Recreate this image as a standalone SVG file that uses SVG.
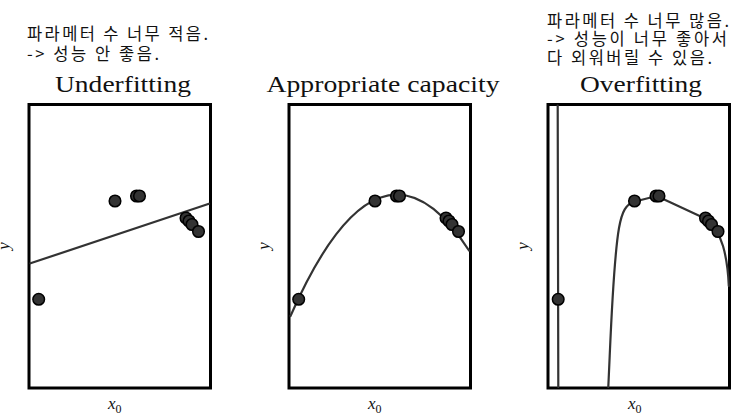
<svg xmlns="http://www.w3.org/2000/svg" width="745" height="416" viewBox="0 0 745 416">
<style>
.note{font-family:"Noto Sans CJK KR","Noto Sans",sans-serif;font-size:16.5px;fill:#111}
.title{font-family:"Liberation Serif","DejaVu Serif",serif;font-size:24px;fill:#111}
.ax{font-family:"Liberation Serif","DejaVu Serif",serif;font-style:italic;font-size:17px;fill:#111}
.sub{font-style:normal;font-size:12px}
.box{fill:#fff;stroke:#000;stroke-width:3}
.fit{fill:none;stroke:#333;stroke-width:2.2;stroke-linecap:round;stroke-linejoin:round}
.pt{fill:#333;stroke:#000;stroke-width:1.5}
</style>
<rect width="745" height="416" fill="#fff"/>

<g id="panel-underfitting">
<text class="note" x="27" y="39.5" textLength="181" lengthAdjust="spacing">파라메터 수 너무 적음.</text>
<text class="note" x="27" y="59.5" textLength="132" lengthAdjust="spacing">-&gt; 성능 안 좋음.</text>
<text class="title" x="55" y="91.5" textLength="136" lengthAdjust="spacingAndGlyphs">Underfitting</text>
<rect class="box" x="29" y="104.5" width="181.5" height="283.5"/>
<text class="ax" transform="translate(9,246) rotate(-90)" text-anchor="middle">y</text>
<text class="ax" x="108" y="409">x<tspan class="sub" dy="4">0</tspan></text>
</g>

<g id="panel-appropriate">
<text class="title" x="266.5" y="91.5" textLength="233" lengthAdjust="spacingAndGlyphs">Appropriate capacity</text>
<rect class="box" x="289" y="104.5" width="181.5" height="283.5"/>
<text class="ax" transform="translate(269,246) rotate(-90)" text-anchor="middle">y</text>
<text class="ax" x="368" y="409">x<tspan class="sub" dy="4">0</tspan></text>
</g>

<g id="panel-overfitting">
<text class="note" x="547" y="26.5" textLength="182" lengthAdjust="spacing">파라메터 수 너무 많음.</text>
<text class="note" x="547" y="45" textLength="180" lengthAdjust="spacing">-&gt; 성능이 너무 좋아서</text>
<text class="note" x="547" y="63.5" textLength="165" lengthAdjust="spacing">다 외워버릴 수 있음.</text>
<text class="title" x="580" y="91.5" textLength="122" lengthAdjust="spacingAndGlyphs">Overfitting</text>
<rect class="box" x="548" y="104.5" width="181.5" height="283.5"/>
<text class="ax" transform="translate(528,246) rotate(-90)" text-anchor="middle">y</text>
<text class="ax" x="628" y="409">x<tspan class="sub" dy="4">0</tspan></text>
</g>

<g id="connectors">
<line class="fit" x1="30.5" y1="263.3" x2="209" y2="203.8"/>
<path class="fit" d="M290.5,316 Q380,112.3 469,250.5"/>
<line class="fit" x1="557.7" y1="105.5" x2="558.3" y2="387"/>
<path class="fit" d="M608.3,387 C611,330 613,262 619,228 C622,211 626,204 635,201.5 L656.7,196 L704,218 C712,223 719,232 723,246 C726.5,258 728.2,272 728.8,286"/>
</g>

<g id="points">
<circle class="pt" cx="38.7" cy="299.3" r="5.8"/>
<circle class="pt" cx="115" cy="201" r="5.8"/>
<circle class="pt" cx="136.5" cy="196" r="5.8"/>
<circle class="pt" cx="139.5" cy="196" r="5.8"/>
<circle class="pt" cx="186" cy="218" r="5.8"/>
<circle class="pt" cx="189" cy="221" r="5.8"/>
<circle class="pt" cx="192" cy="224.5" r="5.8"/>
<circle class="pt" cx="198.5" cy="231.5" r="5.8"/>

<circle class="pt" cx="298.7" cy="299.3" r="5.8"/>
<circle class="pt" cx="375" cy="201" r="5.8"/>
<circle class="pt" cx="396.5" cy="196" r="5.8"/>
<circle class="pt" cx="399.5" cy="196" r="5.8"/>
<circle class="pt" cx="446" cy="218" r="5.8"/>
<circle class="pt" cx="449" cy="221" r="5.8"/>
<circle class="pt" cx="452" cy="224.5" r="5.8"/>
<circle class="pt" cx="458.5" cy="231.5" r="5.8"/>

<circle class="pt" cx="558.2" cy="299.3" r="5.8"/>
<circle class="pt" cx="634.5" cy="201" r="5.8"/>
<circle class="pt" cx="656" cy="196" r="5.8"/>
<circle class="pt" cx="659" cy="196" r="5.8"/>
<circle class="pt" cx="705.5" cy="218" r="5.8"/>
<circle class="pt" cx="708.5" cy="221" r="5.8"/>
<circle class="pt" cx="711.5" cy="224.5" r="5.8"/>
<circle class="pt" cx="718" cy="231.5" r="5.8"/>
</g>
</svg>
